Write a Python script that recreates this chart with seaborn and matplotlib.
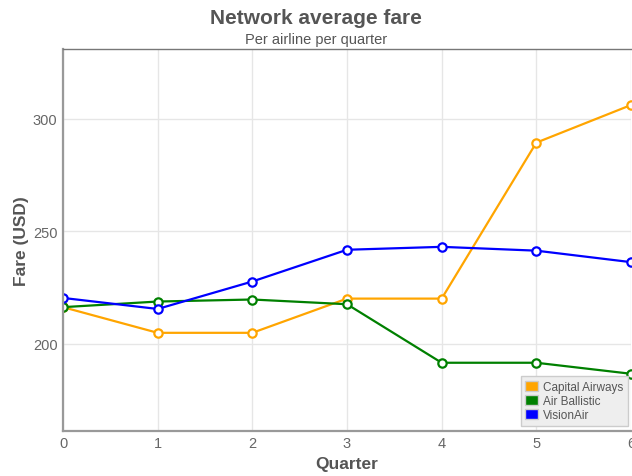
import matplotlib
matplotlib.use("Agg")
import matplotlib.pyplot as plt
import matplotlib.patches as mpatches
import seaborn as sns
import pandas as pd

quarters = [0, 1, 2, 3, 4, 5, 6]
airlines = ["Capital Airways", "Air Ballistic", "VisionAir"]
capital_airways = [216.2, 204.8, 204.8, 220.0, 220.0, 289.3, 306.0]
air_ballistic = [216.2, 218.7, 219.6, 217.5, 191.5, 191.5, 186.6]
vision_air = [220.3, 215.4, 227.6, 241.7, 243.0, 241.3, 236.2]
colors = ["#FFA500", "#008000", "#0000FF"]

rows = []
for name, vals in zip(airlines, [capital_airways, air_ballistic, vision_air]):
    for q, v in zip(quarters, vals):
        rows.append({"Quarter": q, "Fare": v, "Airline": name})
df = pd.DataFrame(rows)

sns.set_theme(style="white")
plt.rcParams["font.family"] = ["Liberation Sans", "DejaVu Sans"]

fig = plt.figure(figsize=(6.32, 4.77), dpi=100)
ax = fig.add_axes([63 / 632, 1 - 431.5 / 477, (631 - 63) / 632, (431.5 - 50) / 477])

sns.lineplot(data=df, x="Quarter", y="Fare", hue="Airline", hue_order=airlines,
             palette=colors, marker="o", markersize=6, markerfacecolor="white",
             markeredgewidth=1.6, linewidth=1.6, ax=ax, legend=False)
for ln in ax.lines:
    ln.set_markeredgecolor(ln.get_color())
    ln.set_markerfacecolor("white")

ax.set_xlim(0, 6)
ax.set_ylim(161.4, 330.9)
ax.set_xticks(quarters)
ax.set_yticks([200, 250, 300])
ax.grid(True, color="#e6e6e6", linewidth=1)
ax.set_axisbelow(True)
ax.tick_params(axis="both", length=0, labelsize=10.5, labelcolor="#666666", pad=4)
for s in ["left", "bottom"]:
    ax.spines[s].set_color("#999999")
    ax.spines[s].set_linewidth(1.6)
ax.spines["top"].set_color("#777777")
ax.spines["top"].set_linewidth(1.0)
ax.spines["right"].set_visible(False)

ax.set_xlabel("Quarter", fontsize=12.5, fontweight="bold", color="#555555", labelpad=4)
ax.set_ylabel("Fare (USD)", fontsize=12.5, fontweight="bold", color="#555555", labelpad=3)

fig.text(0.5, 1 - 18 / 477, "Network average fare", ha="center", va="center",
         fontsize=15, fontweight="bold", color="#555555")
fig.text(0.5, 1 - 40 / 477, "Per airline per quarter", ha="center", va="center",
         fontsize=10.5, color="#555555")

handles = [mpatches.Patch(facecolor=c, edgecolor="#cccccc", label=n) for c, n in zip(colors, airlines)]
leg = ax.legend(handles=handles, loc="lower right", bbox_to_anchor=(0.9947, 0.012),
                borderaxespad=0, fontsize=8.5, frameon=True, fancybox=False,
                handlelength=1.1, handleheight=1.0, handletextpad=0.4,
                borderpad=0.4, labelspacing=0.15)
leg.get_frame().set_facecolor("#eeeeee")
leg.get_frame().set_edgecolor("#cccccc")
leg.get_frame().set_alpha(1)
for t in leg.get_texts():
    t.set_color("#555555")

fig.savefig("out.png", dpi=100)
